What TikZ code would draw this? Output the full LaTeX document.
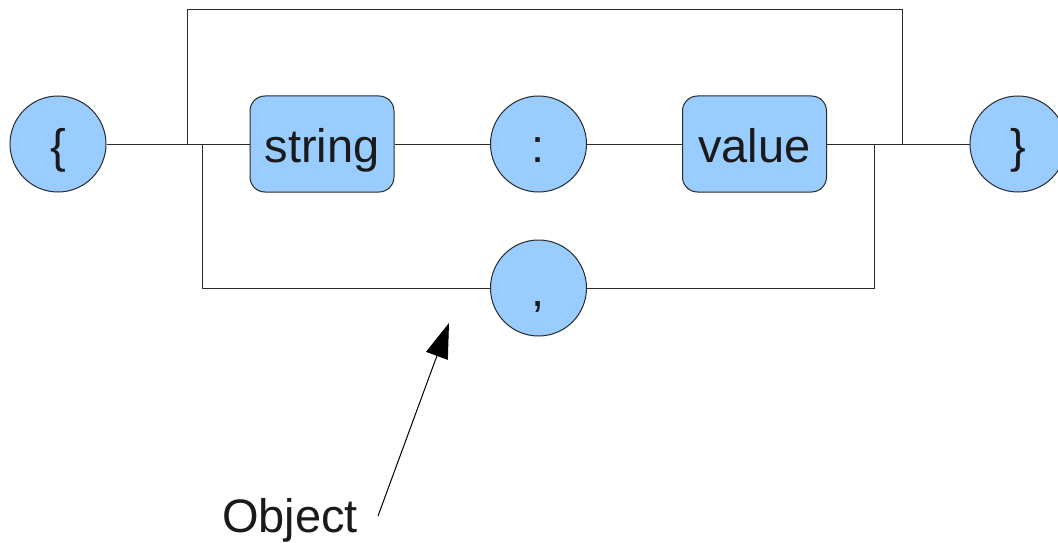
\documentclass[tikz,border=0pt]{standalone}
\usepackage{fontspec}
\setmainfont{Liberation Sans}
\usetikzlibrary{arrows.meta}
\definecolor{tokfill}{HTML}{99CCFF}
\definecolor{ink}{HTML}{1A1A1A}
\definecolor{wire}{HTML}{2A2A2A}
\begin{document}
\begin{tikzpicture}[x=1pt,y=-1pt,
  every node/.style={font=\fontsize{47}{56}\selectfont, text=ink,
    text height=36pt, text depth=0pt, inner sep=0pt},
  tok/.style={circle, draw=wire, fill=tokfill, line width=1pt, minimum size=96pt},
  term/.style={rectangle, rounded corners=15pt, draw=wire, fill=tokfill, line width=1pt,
    minimum width=144pt, minimum height=96pt},
  wireline/.style={draw=wire, line width=1pt},
  pointer/.style={draw=black, line width=1pt, -{Triangle[length=35pt,width=23pt]}}]
  \useasboundingbox (0,0) rectangle (1058,543);

  % tokens of the object syntax
  \node[tok]  (open)   at (58,144)   {\{};
  \node[term] (str)    at (322,144)  {string};
  \node[tok]  (colon)  at (538.5,144){:};
  \node[term] (val)    at (754.5,144){value};
  \node[tok]  (close)  at (1018,144) {\}};
  \node[tok]  (comma)  at (538.5,288){,};

  % junction points on the main track
  \coordinate (skipL) at (187,144);
  \coordinate (skipR) at (902,144);
  \coordinate (loopL) at (202,144);
  \coordinate (loopR) at (874,144);

  % main track
  \draw[wireline] (open.east) -- (str.west);
  \draw[wireline] (str.east) -- (colon.west);
  \draw[wireline] (colon.east) -- (val.west);
  \draw[wireline] (val.east) -- (close.west);

  % empty object bypass over the top
  \draw[wireline] (skipL) -- (187,10) -- (902,10) -- (skipR);

  % repetition loop through the comma
  \draw[wireline] (loopL) |- (comma.west);
  \draw[wireline] (comma.east) -| (loopR);

  % caption with pointer
  \node[anchor=base west] (cap) at (222,532) {Object};
  \coordinate (tail) at (378,516);
  \coordinate (tip) at (449,323);
  \draw[pointer] (tail) -- (tip);
\end{tikzpicture}
\end{document}
